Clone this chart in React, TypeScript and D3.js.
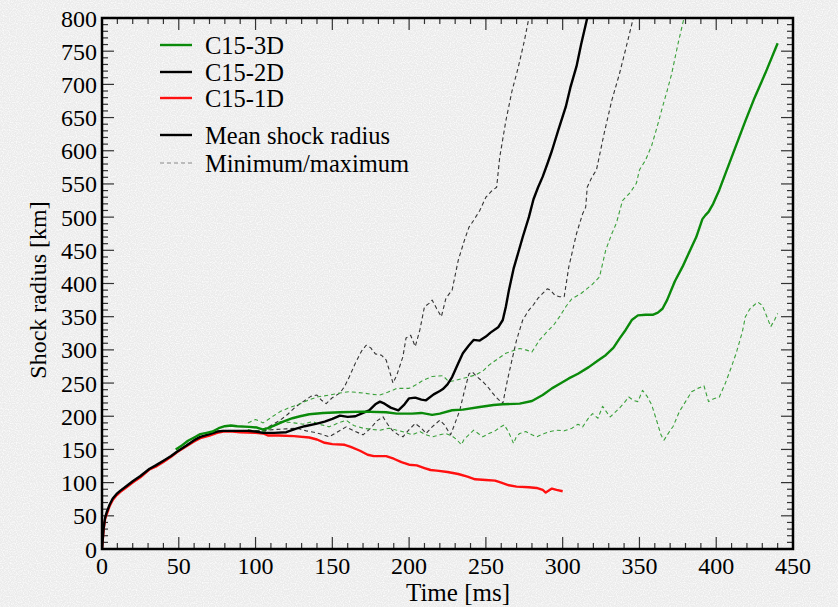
import React from "react";
import * as d3 from "d3";

type Pt = [number, number];

const xTicks = [0, 50, 100, 150, 200, 250, 300, 350, 400, 450];
const yTicks = [0, 50, 100, 150, 200, 250, 300, 350, 400, 450, 500, 550, 600, 650, 700, 750, 800];

const c15_1D_mean: Pt[] = [
  [0, 0], [1, 28], [2, 45], [3, 52], [5, 65], [7, 74], [9.5, 81], [12, 86], [16, 93], [20, 100], [25, 108], [31, 120], [35, 124],
  [40, 131], [45, 139], [49, 146], [55, 155], [60, 162], [64, 167], [70, 171], [75, 175], [79, 177], [85, 177], [90, 176], [100, 175],
  [105, 174], [108, 171], [115, 171], [125, 170], [135, 168], [140, 165], [145, 160], [150, 158], [158, 157], [162, 154], [168, 148],
  [173, 142], [177, 140], [185, 140], [190, 136], [195, 131], [200, 127], [205, 126], [210, 122], [214, 119], [218, 118], [225, 116],
  [232, 113], [238, 109], [243, 105], [250, 104], [256, 103], [260, 100], [265, 96], [270, 94], [278, 93], [283, 92], [287, 89],
  [289, 85], [291, 88], [293, 91], [296, 89], [300, 87],
];

const c15_2D_mean: Pt[] = [
  [0, 0], [1, 30], [2, 47], [3, 55], [5, 67], [7, 76], [9.5, 83], [12, 88], [16, 95], [20, 102], [25, 110], [31, 121], [35, 126],
  [40, 133], [45, 140], [49, 147], [55, 156], [60, 164], [64, 169], [70, 173], [75, 177], [79, 178], [85, 178], [95, 178], [100, 177],
  [105, 175], [112, 175], [120, 176], [126, 181], [132, 185], [140, 189], [145, 192], [150, 196], [155, 201], [160, 199], [165, 200],
  [170, 205], [174, 209], [178, 218], [181, 222], [184, 219], [188, 213], [193, 209], [197, 218], [200, 227], [204, 228], [208, 225],
  [211, 224], [216, 233], [220, 238], [222, 241], [225, 248], [228, 259], [232, 280], [235, 295], [239, 307], [242, 315], [246, 314],
  [250, 320], [253, 326], [258, 334], [261, 345], [263, 365], [265, 390], [268, 422], [271, 446], [274, 470], [278, 500], [281, 527],
  [284, 545], [287, 561], [290, 580], [293, 600], [297, 630], [302, 666], [305, 695], [309, 727], [312, 760], [316, 800],
];

const c15_2D_max: Pt[] = [
  [100, 178], [105, 180], [110, 186], [116, 194], [121, 203], [126, 214], [131, 222], [136, 230], [140, 232], [143, 224], [146, 219],
  [150, 228], [155, 235], [158, 245], [161, 259], [165, 280], [169, 298], [172, 307], [175, 303], [178, 294], [182, 292], [185, 285],
  [187, 270], [189.5, 250], [192, 262], [196, 290], [198, 318], [201, 322], [204, 305], [207, 330], [210, 365], [213, 370], [215, 375],
  [218, 362], [221, 350], [224, 378], [228, 390], [232, 435], [236, 465], [239, 485], [242, 495], [246, 510], [250, 530], [254, 540],
  [257, 545], [259, 590], [263, 645], [267, 690], [271, 725], [275, 765], [278, 800],
];

const c15_2D_min: Pt[] = [
  [100, 178], [105, 178], [112, 180], [120, 181], [127, 182], [133, 178], [138, 176], [143, 173], [148, 169], [153, 176], [159, 184],
  [164, 178], [170, 172], [175, 182], [179, 193], [183, 199], [186, 188], [189, 179], [193, 172], [196, 169], [200, 180], [204, 189],
  [208, 182], [211, 174], [215, 184], [220, 194], [223, 187], [227, 172], [230, 190], [233, 209], [236, 238], [239, 264], [241, 267],
  [244, 260], [248, 252], [251, 245], [254, 236], [257, 228], [261, 219], [264, 254], [267, 285], [270, 315], [274, 345], [278, 360],
  [281, 368], [284, 378], [287, 385], [290, 392], [292, 390], [295, 382], [298, 380], [301, 380], [304, 425], [309, 475], [313, 505],
  [315, 515], [316, 545], [319, 560], [322, 571], [327, 626], [332, 676], [337, 716], [342, 762], [346, 800],
];

const c15_3D_mean: Pt[] = [
  [48, 150], [52, 156], [56, 163], [60, 168], [64, 173], [68, 175], [72, 177], [76, 182], [80, 185], [84, 186], [88, 185], [96, 184],
  [101, 183], [105, 180], [108, 182], [112, 186], [118, 192], [124, 197], [129, 200], [135, 203], [144, 205], [155, 206], [170, 207],
  [185, 206], [192, 204], [202, 204], [208, 205], [215, 202], [220, 204], [228, 209], [235, 210], [246, 214], [255, 217], [261, 218],
  [272, 219], [280, 223], [287, 232], [293, 242], [299, 250], [304, 257], [310, 264], [317, 274], [323, 284], [328, 292], [333, 303],
  [337, 317], [341, 330], [345, 345], [349, 352], [354, 353], [359, 353], [362, 356], [365, 362], [368, 375], [373, 403], [378, 425],
  [383, 450], [387, 470], [391, 497], [393, 503], [395, 508], [398, 520], [402, 541], [410, 590], [419, 645], [425, 680], [432, 717],
  [440, 762],
];

const c15_3D_max: Pt[] = [
  [95, 190], [100, 195], [105, 190], [110, 198], [116, 207], [121, 212], [127, 217], [133, 223], [140, 229], [148, 232], [155, 235],
  [161, 237], [170, 235], [176, 233], [181, 232], [186, 236], [192, 242], [200, 242], [205, 248], [209, 254], [215, 260], [222, 261],
  [226, 252], [230, 254], [235, 257], [243, 262], [248, 268], [252, 277], [258, 287], [263, 295], [268, 299], [272, 302], [276, 300],
  [280, 297], [285, 315], [290, 328], [294, 337], [298, 350], [302, 365], [306, 377], [312, 385], [319, 398], [324, 410], [328, 450],
  [332, 475], [335, 491], [339, 525], [344, 537], [348, 551], [350, 571], [354, 586], [358, 608], [362, 640], [365, 666], [368, 690],
  [371, 716], [375, 760], [379, 800],
];

const c15_3D_min: Pt[] = [
  [95, 180], [100, 178], [107, 177], [112, 185], [116, 192], [125, 190], [131, 188], [137, 192], [143, 187], [148, 184], [154, 190],
  [159, 194], [164, 186], [170, 182], [176, 180], [181, 179], [187, 182], [192, 179], [197, 176], [202, 172], [207, 177], [211, 172],
  [215, 169], [220, 172], [224, 174], [228, 170], [231, 165], [234, 157], [236, 166], [238, 170], [242, 179], [245, 174], [248, 169],
  [252, 174], [256, 178], [259, 183], [262, 187], [265, 175], [268, 159], [270, 170], [272, 174], [276, 177], [280, 172], [283, 169],
  [288, 174], [292, 177], [296, 179], [301, 178], [306, 182], [310, 188], [313, 184], [317, 198], [319.5, 204], [323, 197], [326, 215],
  [329, 205], [331, 199], [336, 210], [340, 220], [343, 229], [346, 224], [349, 222], [352, 239], [355, 230], [358, 217], [361, 195],
  [364, 172], [366, 164], [369, 175], [372, 185], [376, 207], [380, 222], [384, 237], [388, 242], [392, 246], [395, 222], [398, 226],
  [402, 229], [406, 250], [410, 275], [413, 295], [417, 327], [419, 350], [422, 362], [425, 368], [427, 372], [430, 367], [433, 350],
  [435.5, 335], [438, 345], [440, 355],
];

const legendModels = ["C15-3D", "C15-2D", "C15-1D"];
const legendStyles = ["Mean shock radius", "Minimum/maximum"];

const GREEN = "#0a8a0a";
const GREEN_D = "#3aa03a";
const RED = "#ff1010";
const BLACK = "#000000";
const GRAY_D = "#333333";

const W = 838;
const H = 607;
const L = 102;
const R = 793;
const T = 18;
const B = 549;
const FONT = "'Liberation Serif', 'Times New Roman', serif";

export default function App() {
  const x = d3.scaleLinear().domain([0, 450]).range([L, R]);
  const y = d3.scaleLinear().domain([0, 800]).range([B, T]);
  const line = d3.line<Pt>().x((d) => x(d[0])).y((d) => y(d[1]));

  const xMinor = d3.range(0, 451, 10);
  const yMinor = d3.range(0, 801, 10);

  const series = [
    { d: c15_2D_max, c: GRAY_D, w: 1.1, dash: "4,3" },
    { d: c15_2D_min, c: GRAY_D, w: 1.1, dash: "4,3" },
    { d: c15_3D_max, c: GREEN_D, w: 1.1, dash: "4,3" },
    { d: c15_3D_min, c: GREEN_D, w: 1.1, dash: "4,3" },
    { d: c15_1D_mean, c: RED, w: 2.4, dash: undefined },
    { d: c15_2D_mean, c: BLACK, w: 2.4, dash: undefined },
    { d: c15_3D_mean, c: GREEN, w: 2.4, dash: undefined },
  ];

  const legendColors = [GREEN, BLACK, RED];
  const legendRowsY = [45, 72, 98];

  return (
    <svg width={W} height={H} style={{ position: "absolute", left: 0, top: 0 }} fontFamily={FONT}>
      <defs>
        <filter id="noise" x="0" y="0" width="100%" height="100%">
          <feTurbulence type="fractalNoise" baseFrequency="0.85" numOctaves="1" seed="7" result="t" />
          <feColorMatrix type="matrix" values="0 0 0 0 1  0 0 0 0 1  0 0 0 0 1  2.2 0 0 0 -0.9" />
        </filter>
        <clipPath id="plot">
          <rect x={L} y={T} width={R - L} height={B - T} />
        </clipPath>
      </defs>
      <rect x={0} y={0} width={W} height={H} fill="#ebebeb" />
      <rect x={0} y={0} width={W} height={H} filter="url(#noise)" />

      <g stroke="#333" strokeWidth={1.2}>
        {xMinor.map((v) => {
          const major = v % 50 === 0;
          const len = major ? 12 : 6;
          return (
            <g key={"xt" + v}>
              <line x1={x(v)} x2={x(v)} y1={B} y2={B - len} />
              <line x1={x(v)} x2={x(v)} y1={T} y2={T + len} />
            </g>
          );
        })}
        {yMinor.map((v) => {
          const major = v % 50 === 0;
          const len = major ? 12 : 6;
          return (
            <g key={"yt" + v}>
              <line x1={L} x2={L + len} y1={y(v)} y2={y(v)} />
              <line x1={R} x2={R - len} y1={y(v)} y2={y(v)} />
            </g>
          );
        })}
      </g>

      <g clipPath="url(#plot)" fill="none" strokeLinejoin="round" strokeLinecap="butt">
        {series.map((s, i) => (
          <path key={i} d={line(s.d) || ""} stroke={s.c} strokeWidth={s.w} strokeDasharray={s.dash} />
        ))}
      </g>

      <rect x={L} y={T} width={R - L} height={B - T} fill="none" stroke="#000" strokeWidth={2.5} />

      <g fontSize={24} fill="#000">
        {xTicks.map((v) => (
          <text key={"xl" + v} x={x(v)} y={574} textAnchor="middle">
            {v}
          </text>
        ))}
        {yTicks.map((v) => (
          <text key={"yl" + v} x={97} y={y(v) + 8.5} textAnchor="end">
            {v}
          </text>
        ))}
      </g>

      <text x={458} y={601} fontSize={25} textAnchor="middle" fill="#000">
        Time [ms]
      </text>
      <text transform={`translate(46, 290) rotate(-90)`} fontSize={24} textAnchor="middle" fill="#000">
        Shock radius [km]
      </text>

      <g fontSize={24.5} fill="#000">
        {legendModels.map((m, i) => (
          <g key={m}>
            <line x1={160} x2={192} y1={legendRowsY[i]} y2={legendRowsY[i]} stroke={legendColors[i]} strokeWidth={2.4} />
            <text x={205} y={legendRowsY[i] + 8.5}>
              {m}
            </text>
          </g>
        ))}
        <line x1={160} x2={192} y1={135} y2={135} stroke={BLACK} strokeWidth={2.4} />
        <text x={205} y={143.5}>
          {legendStyles[0]}
        </text>
        <line x1={160} x2={192} y1={163} y2={163} stroke="#888" strokeWidth={1.2} strokeDasharray="4,3" />
        <text x={205} y={171.5}>
          {legendStyles[1]}
        </text>
      </g>
    </svg>
  );
}
